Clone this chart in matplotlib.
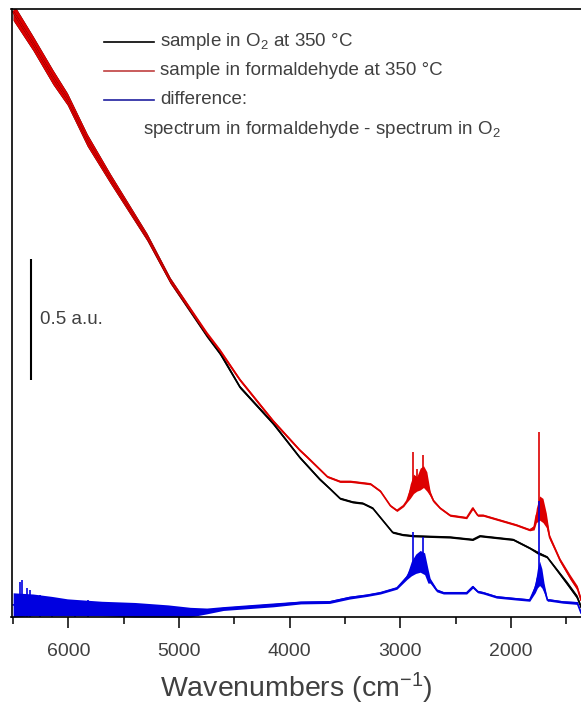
import numpy as np
import matplotlib
matplotlib.use("Agg")
import matplotlib.pyplot as plt
from matplotlib.lines import Line2D
from matplotlib.ticker import MultipleLocator

plt.rcParams['font.family'] = ['Liberation Sans', 'DejaVu Sans']
plt.rcParams['mathtext.fontset'] = 'custom'
plt.rcParams['mathtext.rm'] = 'Liberation Sans'
plt.rcParams['mathtext.it'] = 'Liberation Sans'

# sample in formaldehyde at 350 C (red)
wn_red = [6500, 6320, 6140, 6010, 5830, 5620, 5290, 5080, 4750, 4630,
          4450, 4150, 3910, 3840, 3660, 3545, 3450, 3360, 3270, 3180,
          3090, 3030, 2970, 2940, 2910, 2880, 2850, 2820, 2790, 2760,
          2730, 2700, 2640, 2550, 2400, 2345, 2300, 2250, 2100, 1950,
          1830, 1790, 1770, 1740, 1710, 1680, 1650, 1600, 1556, 1465,
          1400, 1366]
abs_red = [2.50, 2.37, 2.23, 2.14, 1.97, 1.81, 1.57, 1.39, 1.17, 1.10,
           0.98, 0.81, 0.69, 0.66, 0.58, 0.56, 0.56, 0.555, 0.55, 0.52,
           0.46, 0.44, 0.46, 0.48, 0.52, 0.55, 0.55, 0.57, 0.58, 0.56,
           0.51, 0.48, 0.45, 0.42, 0.41, 0.45, 0.42, 0.42, 0.40, 0.38,
           0.36, 0.37, 0.42, 0.45, 0.44, 0.40, 0.33, 0.28, 0.235, 0.165,
           0.12, 0.07]
noise_red = [0.035, 0.03, 0.03, 0.025, 0.025, 0.02, 0.015, 0.012, 0.01, 0.008,
             0.006, 0.006, 0.005, 0.005, 0.004, 0.004, 0.004, 0.004, 0.004, 0.004,
             0.004, 0.004, 0.004, 0.006, 0.03, 0.04, 0.03, 0.045, 0.045, 0.04,
             0.01, 0.006, 0.004, 0.004, 0.004, 0.006, 0.004, 0.004, 0.004, 0.004,
             0.004, 0.01, 0.03, 0.05, 0.05, 0.03, 0.01, 0.008, 0.008, 0.01,
             0.01, 0.01]
spike_red_x = [2885, 2850, 2795, 1742]
spike_red_lo = [0.55, 0.55, 0.58, 0.45]
spike_red_hi = [0.68, 0.61, 0.67, 0.766]

# sample in O2 at 350 C (black)
wn_blk = [6500, 6320, 6140, 6010, 5830, 5620, 5290, 5080, 4750, 4630,
          4450, 4150, 3910, 3730, 3636, 3545, 3430, 3340, 3250, 3160,
          3070, 2980, 2880, 2550, 2345, 2280, 1980, 1830, 1755, 1673,
          1583, 1493, 1402, 1366]
abs_blk = [2.50, 2.37, 2.23, 2.14, 1.97, 1.81, 1.57, 1.39, 1.165, 1.09,
           0.95, 0.80, 0.66, 0.57, 0.53, 0.49, 0.475, 0.47, 0.45, 0.40,
           0.35, 0.34, 0.335, 0.33, 0.32, 0.335, 0.32, 0.285, 0.265, 0.248,
           0.194, 0.14, 0.083, 0.041]
noise_blk = [0.035, 0.03, 0.03, 0.025, 0.025, 0.02, 0.015, 0.012, 0.01, 0.008,
             0.006, 0.006, 0.005, 0.005, 0.004, 0.004, 0.004, 0.004, 0.004, 0.004,
             0.004, 0.004, 0.004, 0.004, 0.004, 0.004, 0.004, 0.004, 0.006, 0.004,
             0.006, 0.008, 0.008, 0.008]

# difference: formaldehyde - O2 (blue)
wn_blu = [6500, 6320, 6150, 6010, 5700, 5400, 5100, 4900, 4750, 4600,
          4300, 4150, 3900, 3640, 3460, 3300, 3180, 3030, 2940, 2900,
          2860, 2820, 2780, 2750, 2730, 2670, 2610, 2550, 2400, 2345,
          2300, 2250, 2130, 1950, 1830, 1780, 1760, 1740, 1720, 1700,
          1670, 1650, 1530, 1400, 1366]
abs_blu = [0.05, 0.05, 0.045, 0.04, 0.035, 0.03, 0.025, 0.02, 0.025, 0.035,
           0.045, 0.05, 0.06, 0.062, 0.08, 0.09, 0.10, 0.12, 0.165, 0.20,
           0.22, 0.23, 0.22, 0.17, 0.15, 0.11, 0.10, 0.10, 0.10, 0.125,
           0.105, 0.10, 0.083, 0.075, 0.07, 0.12, 0.16, 0.18, 0.16, 0.12,
           0.07, 0.07, 0.062, 0.058, 0.017]
noise_blu = [0.05, 0.045, 0.04, 0.035, 0.03, 0.03, 0.025, 0.02, 0.012, 0.008,
             0.008, 0.008, 0.006, 0.006, 0.006, 0.005, 0.005, 0.005, 0.01, 0.03,
             0.04, 0.045, 0.045, 0.03, 0.01, 0.006, 0.005, 0.005, 0.005, 0.006,
             0.005, 0.005, 0.005, 0.005, 0.005, 0.02, 0.04, 0.05, 0.04, 0.02,
             0.005, 0.005, 0.005, 0.006, 0.006]
spike_blu_x = [6439, 6420, 6376, 6350, 6258, 6150, 5941, 5823, 2885, 2790, 1742]
spike_blu_lo = [0.0, 0.0, 0.0, 0.0, 0.0, 0.0, 0.0, 0.0, 0.20, 0.22, 0.17]
spike_blu_hi = [0.145, 0.153, 0.12, 0.11, 0.09, 0.083, 0.07, 0.07, 0.35, 0.33, 0.48]

scale_bar_x = 6340
scale_bar_lo = 0.98
scale_bar_len = 0.5

labels = ["sample in O$_2$ at 350 °C",
          "sample in formaldehyde at 350 °C",
          "difference:"]
label_extra = "spectrum in formaldehyde - spectrum in O$_2$"

c_red = "#dd0000"
c_blk = "#000000"
c_blu = "#0000e0"
c_txt = "#404040"


def draw_trace(ax, x, y, w, color):
    x = np.array(x)
    y = np.array(y)
    w = np.array(w)
    ax.fill_between(x, y - w, y + w, color=color, lw=0)
    ax.plot(x, y, color=color, lw=1.2)


fig = plt.figure(figsize=(5.81, 7.15), dpi=100)
ax = fig.add_axes([11.5 / 581, 98 / 715, 1 - 11.5 / 581, 608 / 715])

draw_trace(ax, wn_blk, abs_blk, noise_blk, c_blk)
draw_trace(ax, wn_red, abs_red, noise_red, c_red)
ax.vlines(spike_red_x, spike_red_lo, spike_red_hi, color=c_red, lw=1.2)
draw_trace(ax, wn_blu, abs_blu, noise_blu, c_blu)
ax.vlines(spike_blu_x, spike_blu_lo, spike_blu_hi, color=c_blu, lw=1.2)

# scale bar
ax.vlines(scale_bar_x, scale_bar_lo, scale_bar_lo + scale_bar_len, color="black", lw=1.5)
ax.text(scale_bar_x - 80, scale_bar_lo + scale_bar_len / 2, "0.5 a.u.", color=c_txt,
        fontsize=13.5, va="center", ha="left")

ax.set_xlim(6515, 1366)
ax.set_ylim(0, 2.512)
ax.xaxis.set_major_locator(MultipleLocator(1000))
ax.xaxis.set_minor_locator(MultipleLocator(500))
ax.tick_params(axis="x", which="major", direction="out", length=8, width=1.1,
               labelsize=14, labelcolor=c_txt, pad=10.5)
ax.tick_params(axis="x", which="minor", direction="out", length=5, width=1.1)
ax.set_yticks([])
ax.spines["right"].set_visible(False)
for s in ["left", "top", "bottom"]:
    ax.spines[s].set_linewidth(1.2)
ax.set_xlabel("Wavenumbers (cm$^{-1}$)", fontsize=20.5, color=c_txt, labelpad=8)

# legend
leg_y = [41.7, 70.7, 100]
for label, py, col in zip(labels, leg_y, [c_blk, "#c04040", "#2020a0"]):
    fig.add_artist(Line2D([104 / 581, 154 / 581], [1 - py / 715, 1 - py / 715],
                          color=col, lw=1.2, transform=fig.transFigure))
    fig.text(160 / 581, 1 - py / 715, label, color=c_txt, fontsize=13.5, va="center", ha="left")
fig.text(143 / 581, 1 - 130 / 715, label_extra, color=c_txt, fontsize=13.5, va="center", ha="left")

fig.savefig("out.png", dpi=100)
